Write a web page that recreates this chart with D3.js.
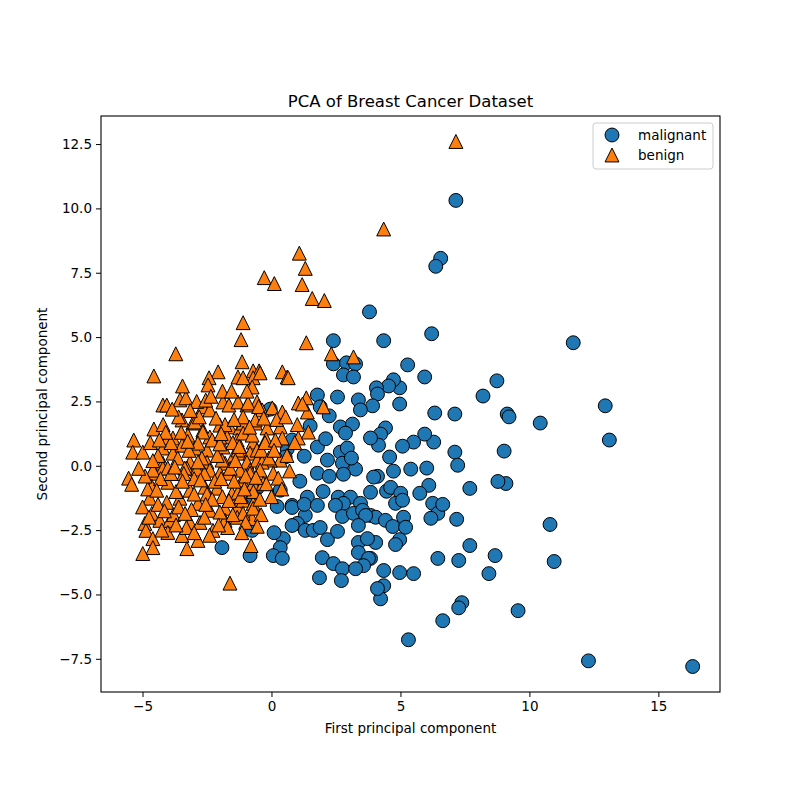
<!DOCTYPE html>
<html>
<head>
  <meta charset="UTF-8">
  <title>PCA of Breast Cancer Dataset</title>
  <script src="https://d3js.org/d3.v7.min.js"></script>
  <style>
    body { margin: 0; background: #fff; }
    svg text { font-family: "DejaVu Sans", sans-serif; fill: #000; }
    .axis path, .axis line { stroke: #000; }
  </style>
</head>
<body>
  <div id="chart"></div>
  <script>
    // values: [first component, second component]
    const malignant = [
      [16.33, -7.8], [12.29, -7.58], [11.7, 4.78], [12.94, 2.33], [13.1, 1.0], [10.42, 1.66],
      [10.8, -2.28], [10.96, -3.72], [9.56, -5.63], [9.14, 2.01], [9.21, 1.9], [9.02, 0.57],
      [9.09, -0.69], [8.78, -0.61], [8.74, 3.3], [8.2, 2.71], [8.43, -4.19], [8.67, -3.49],
      [7.69, -0.88], [7.69, -3.1], [7.11, 2.01], [7.11, 0.53], [7.22, 0.02], [7.18, -2.08],
      [7.26, -3.68], [7.38, -5.32], [7.26, -5.52], [6.64, -6.02], [5.31, -6.76], [6.45, -3.6],
      [6.33, 2.05], [6.29, 0.92], [6.21, 5.13], [6.56, 8.06], [6.37, 7.75], [7.15, 10.31],
      [5.94, 3.45], [5.94, 1.23], [6.02, -0.09], [6.1, -0.76], [6.25, -1.46], [6.45, -1.85],
      [6.18, -2.04], [5.75, -1.07], [6.64, -1.5], [5.4, -0.13], [5.51, 0.92], [5.28, 3.92],
      [5.08, 0.76], [4.97, -4.15], [5.51, -4.19], [4.35, 4.86], [3.8, 5.98], [4.97, 3.03],
      [4.97, 2.4], [4.73, 3.34], [4.54, 3.1], [4.07, 3.03], [4.11, 2.79], [3.92, 2.33],
      [4.42, 1.47], [4.23, 1.23], [4.15, 0.8], [3.84, 1.08], [4.58, 0.34], [4.73, -0.21],
      [4.11, -0.41], [3.84, -1.03], [4.46, -0.99], [4.62, -0.84], [5.01, -1.07], [4.81, -1.46],
      [5.08, -1.34], [3.84, -1.93], [4.04, -2.0], [4.42, -2.12], [4.7, -2.36], [5.12, -2.0],
      [5.2, -2.39], [4.97, -2.87], [4.81, -3.06], [4.04, -2.98], [3.84, -3.6], [4.35, -4.07],
      [4.35, -4.66], [4.23, -5.17], [2.4, 4.86], [2.4, 3.96], [2.91, 4.0], [3.26, 3.96],
      [2.79, 3.53], [3.18, 3.45], [1.78, 2.75], [2.56, 2.67], [3.37, 2.56], [1.89, 2.29],
      [2.24, 1.94], [3.45, 2.17], [2.67, 1.51], [3.14, 1.62], [2.87, 1.27], [1.78, 0.73],
      [2.17, 0.22], [2.67, 0.53], [2.94, 0.69], [3.26, -0.13], [2.75, 0.1], [1.27, 0.37],
      [0.61, 0.65], [0.8, 1.0], [0.53, 0.34], [1.78, -0.29], [2.24, -0.41], [2.79, -0.33],
      [3.96, -0.44], [0.34, -0.95], [1.39, -1.22], [0.8, -1.54], [-0.56, -0.87], [-0.71, -1.22],
      [2.59, -1.22], [3.06, -1.22], [2.79, -1.46], [3.45, -1.46], [-0.05, 2.2], [-0.75, -2.51],
      [-0.83, -3.49], [0.22, -1.58], [0.8, -1.62], [1.31, -1.93], [1.27, -1.5], [1.78, -1.54],
      [1.0, -2.24], [0.8, -2.32], [1.31, -2.51], [1.62, -2.51], [1.89, -2.4], [2.17, -2.87],
      [2.56, -2.55], [0.46, -2.83], [0.34, -3.18], [0.07, -3.49], [0.42, -3.6], [1.97, -3.57],
      [2.4, -3.8], [2.75, -4.0], [1.86, -4.35], [2.71, -4.46], [2.48, -1.54], [2.75, -1.97],
      [3.18, -1.85], [3.53, -1.73], [3.65, -1.93], [3.37, -2.32], [3.37, -2.98], [3.72, -2.83],
      [3.37, -3.37], [3.76, -3.6], [3.57, -3.88], [3.26, -4.0], [4.11, -4.77], [-1.92, -3.18],
      [1.5, 1.55], [2.1, 1.05], [1.1, -0.6], [2.0, -1.0], [3.1, 0.3], [0.1, -2.6]
    ];

    const benign = [
      [7.15, 12.6], [4.35, 9.2], [1.08, 8.26], [1.31, 7.67], [-0.28, 7.31], [0.11, 7.08],
      [1.19, 7.04], [1.58, 6.5], [2.05, 6.42], [-1.1, 5.56], [1.35, 4.78], [2.32, 4.35],
      [3.18, 4.23], [-1.18, 4.9], [-1.14, 4.04], [-0.71, 3.69], [-0.48, 3.69], [0.42, 3.65],
      [0.61, 3.45], [-3.71, 4.35], [-4.56, 3.49], [-2.07, 3.65], [-2.42, 3.42], [-1.3, 3.45],
      [-2.46, 3.14], [-4.21, 2.36], [-4.06, 2.36], [-3.55, 2.56], [-3.32, 2.64], [-2.66, 2.29],
      [-1.88, 2.48], [-1.65, 2.36], [-1.3, 2.48], [-0.95, 2.36], [-0.56, 2.48], [-2.39, 2.17],
      [-3.47, 1.78], [-3.05, 1.66], [-2.66, 1.39], [-2.0, 1.58], [-1.61, 1.51], [-1.22, 1.47],
      [-4.56, 1.43], [-3.82, 1.08], [-3.24, 1.19], [-2.39, 1.12], [-1.72, 1.12], [-1.33, 1.0],
      [-5.34, 1.0], [-5.38, 0.53], [-4.99, 0.53], [-4.21, 0.69], [-3.82, 0.49], [-3.47, 0.8],
      [-2.97, 0.69], [-2.5, 0.61], [-1.88, 0.73], [-1.49, 0.34], [-1.1, 0.49], [-4.21, 0.1],
      [-3.16, 0.14], [-2.5, 0.14], [-1.8, 0.1], [-5.54, -0.48], [-5.42, -0.72], [-4.64, -0.29],
      [-4.21, -0.09], [-3.28, -0.09], [-2.89, -0.13], [-2.39, -0.17], [-2.0, -0.29], [-1.68, -0.29],
      [-1.14, -0.56], [-4.64, -0.8], [-4.02, -0.64], [-3.16, -0.95], [-2.58, -0.83], [-2.11, -0.87],
      [-1.53, -1.07], [-1.3, -1.03], [-4.72, -1.26], [-4.06, -1.42], [-3.55, -1.26], [-2.85, -1.46],
      [-2.39, -1.73], [-1.8, -1.65], [-1.33, -1.61], [-4.64, -1.85], [-4.33, -2.12], [-4.91, -2.24],
      [-4.87, -2.51], [-3.94, -2.12], [-3.16, -2.2], [-2.77, -2.2], [-2.27, -2.51], [-1.33, -2.0],
      [-1.8, -2.12], [-4.02, -2.59], [-3.47, -2.71], [-4.6, -2.83], [-4.6, -3.18], [-4.99, -3.41],
      [-3.28, -3.22], [-2.85, -2.9], [-1.61, -4.56], [-0.79, -3.1], [-0.71, 3.42], [-0.75, 3.06],
      [-0.91, 2.44], [-2.97, 1.7], [-1.1, 1.66], [-0.63, 1.66], [-4.02, 1.08], [-2.66, 1.31],
      [-2.0, 1.12], [-1.1, 1.27], [-0.71, 0.92], [-2.85, 0.88], [-1.3, 0.61], [-0.83, 0.49],
      [-3.63, 0.3], [-1.92, 0.22], [-0.95, 0.14], [-0.56, 0.22], [-4.6, -0.17], [-4.02, -0.09],
      [-3.36, -0.09], [-1.22, -0.17], [-0.83, -0.17], [-0.44, 3.61], [0.65, 3.42], [-1.1, 3.42],
      [-0.36, 2.17], [0.03, 2.25], [0.42, 2.09], [1.04, 2.44], [1.39, 2.09], [2.01, 2.29],
      [-0.63, 1.78], [-0.17, 1.47], [0.34, 1.51], [-0.75, 1.19], [-0.21, 1.04], [0.42, 1.08],
      [1.04, 1.08], [1.43, 1.31], [-0.56, 0.61], [0.34, 0.22], [-0.05, 0.22], [-0.36, 0.14],
      [-0.83, -0.29], [-0.44, -0.17], [0.07, -0.29], [0.26, -0.48], [-0.71, -0.68], [-0.32, -0.68],
      [-1.1, -1.34], [-0.71, -1.46], [1.35, 2.64], [1.2, 2.4], [-0.75, -2.05], [-1.1, -1.85],
      [-0.71, -1.65], [-3.0, -0.5], [-2.7, 0.3], [-2.2, -0.6], [-1.9, -1.2], [-2.5, -1.1],
      [-3.4, -0.3], [-3.7, -1.0], [-4.3, -0.5], [-4.4, 0.4], [-3.9, 0.9], [-3.5, 1.3],
      [-2.8, 1.9], [-2.3, 1.0], [-1.6, -0.1], [-1.5, 0.9], [-1.0, -0.4], [-0.7, -1.0],
      [-1.2, -1.2], [-0.4, 0.6], [-0.2, -0.7], [-2.0, -1.8], [-2.6, -2.0], [-3.1, -1.7],
      [-3.8, -1.9], [-4.4, -1.5], [-4.8, -0.9], [-5.0, -1.6], [-3.3, -2.4], [-2.4, -2.7],
      [-1.7, -2.4], [-1.0, -2.2], [-0.4, -1.9], [0.0, -1.2], [0.4, -0.9], [0.6, 0.4],
      [0.9, 0.9], [1.0, 1.6], [0.2, 1.8], [-0.5, 2.3], [-1.9, 2.9], [-2.9, 2.5],
      [-3.6, 1.9], [-4.2, 1.6], [-4.7, 0.9], [-2.1, 0.4], [-1.4, 0.2], [-2.6, -0.3],
      [-3.2, 0.6], [-1.8, 1.6], [-1.1, 1.9],
      [-3.45, -0.6], [-3.9, -0.3], [-4.45, -0.95], [-4.15, -1.75], [-3.6, -1.6], [-3.0, -1.1],
      [-2.75, -0.55], [-2.3, -1.3], [-1.95, -0.5], [-1.45, -0.6], [-1.65, -1.35], [-1.05, -0.9],
      [-0.45, -1.3], [-0.1, 0.3], [-0.25, 0.9], [0.15, 1.0], [0.55, 1.9], [-0.3, 1.85],
      [-0.85, 1.5], [-1.45, 1.8], [-2.15, 1.85], [-2.55, 2.55], [-3.15, 2.15], [-3.85, 2.2],
      [-4.1, 1.3], [-4.6, 0.2], [-4.9, -0.4], [-4.25, -2.5], [-3.7, -2.3], [-3.0, -2.6],
      [-2.55, -1.5], [-2.05, -2.3], [-1.5, -1.9], [-1.15, -2.6], [-0.55, -2.35], [-3.35, -1.85],
      [-4.75, -2.0], [-2.85, 0.15], [-3.25, 0.95], [-3.75, -0.05], [-2.0, 0.85], [-1.25, 0.75],
      [-0.6, -0.45], [0.1, 0.6], [0.7, -0.2], [-5.15, -0.1], [-4.35, 1.0], [-2.35, 2.7],
      [-1.55, 2.9], [-0.95, 2.9], [-3.45, 3.1], [-1.95, 1.25]
    ];

    const classNames = ["malignant", "benign"];
    const classColors = ["#1f77b4", "#ff7f0e"];
    const xTicks = [-5, 0, 5, 10, 15];
    const yTicks = [-7.5, -5.0, -2.5, 0.0, 2.5, 5.0, 7.5, 10.0, 12.5];

    const W = 800, H = 800;
    const margin = { top: 116, right: 80, bottom: 108, left: 101 };
    const width = W - margin.left - margin.right,
      height = H - margin.top - margin.bottom;

    const svg = d3.select("#chart").append("svg")
      .attr("width", W)
      .attr("height", H);

    const g = svg.append("g")
      .attr("transform", `translate(${margin.left},${margin.top})`);

    const x = d3.scaleLinear().domain([-6.61, 17.39]).range([0, width]);
    const y = d3.scaleLinear().domain([-8.79, 13.59]).range([height, 0]);

    // axes
    const xAxis = d3.axisBottom(x).tickValues(xTicks).tickFormat(d3.format("d")).tickSize(5).tickPadding(4);
    const yAxis = d3.axisLeft(y).tickValues(yTicks).tickFormat(d3.format(".1f")).tickSize(5).tickPadding(4);

    g.append("g").attr("class", "axis")
      .attr("transform", `translate(0,${height})`)
      .call(xAxis)
      .call(s => s.select(".domain").remove())
      .selectAll("text").style("font-size", "13.5px");

    g.append("g").attr("class", "axis")
      .call(yAxis)
      .call(s => s.select(".domain").remove())
      .selectAll("text").style("font-size", "13.5px");

    // markers: circles first, triangles on top
    const r = 6.95;
    g.selectAll(".mal").data(malignant).enter().append("circle")
      .attr("class", "mal")
      .attr("cx", d => x(d[0]))
      .attr("cy", d => y(d[1]))
      .attr("r", r)
      .attr("fill", classColors[0])
      .attr("stroke", "#000")
      .attr("stroke-width", 1);

    const tri = `M0,${-r}L${r},${r}L${-r},${r}Z`;
    g.selectAll(".ben").data(benign).enter().append("path")
      .attr("class", "ben")
      .attr("d", tri)
      .attr("transform", d => `translate(${x(d[0])},${y(d[1])})`)
      .attr("fill", classColors[1])
      .attr("stroke", "#000")
      .attr("stroke-width", 1);

    // frame
    g.append("rect")
      .attr("width", width).attr("height", height)
      .attr("fill", "none").attr("stroke", "#000").attr("stroke-width", 1.1);

    // title and axis labels
    svg.append("text")
      .attr("x", margin.left + width / 2).attr("y", 107)
      .attr("text-anchor", "middle")
      .style("font-size", "16.5px")
      .text("PCA of Breast Cancer Dataset");

    svg.append("text")
      .attr("x", margin.left + width / 2).attr("y", 733)
      .attr("text-anchor", "middle")
      .style("font-size", "13.5px")
      .text("First principal component");

    svg.append("text")
      .attr("transform", `translate(47,${margin.top + height / 2}) rotate(-90)`)
      .attr("text-anchor", "middle")
      .style("font-size", "13.5px")
      .text("Second principal component");

    // legend
    const lg = svg.append("g").attr("transform", "translate(593,123)");
    lg.append("rect")
      .attr("width", 120).attr("height", 46).attr("rx", 3)
      .attr("fill", "#fff").attr("fill-opacity", 0.8)
      .attr("stroke", "#ccc");
    classNames.forEach((name, i) => {
      const row = lg.append("g").attr("transform", `translate(19,${12 + i * 20})`);
      if (i === 0) {
        row.append("circle").attr("r", r)
          .attr("fill", classColors[0]).attr("stroke", "#000");
      } else {
        row.append("path").attr("d", tri)
          .attr("fill", classColors[1]).attr("stroke", "#000");
      }
      row.append("text")
        .attr("x", 26).attr("y", 5)
        .style("font-size", "13.5px")
        .text(name);
    });
  </script>
</body>
</html>
